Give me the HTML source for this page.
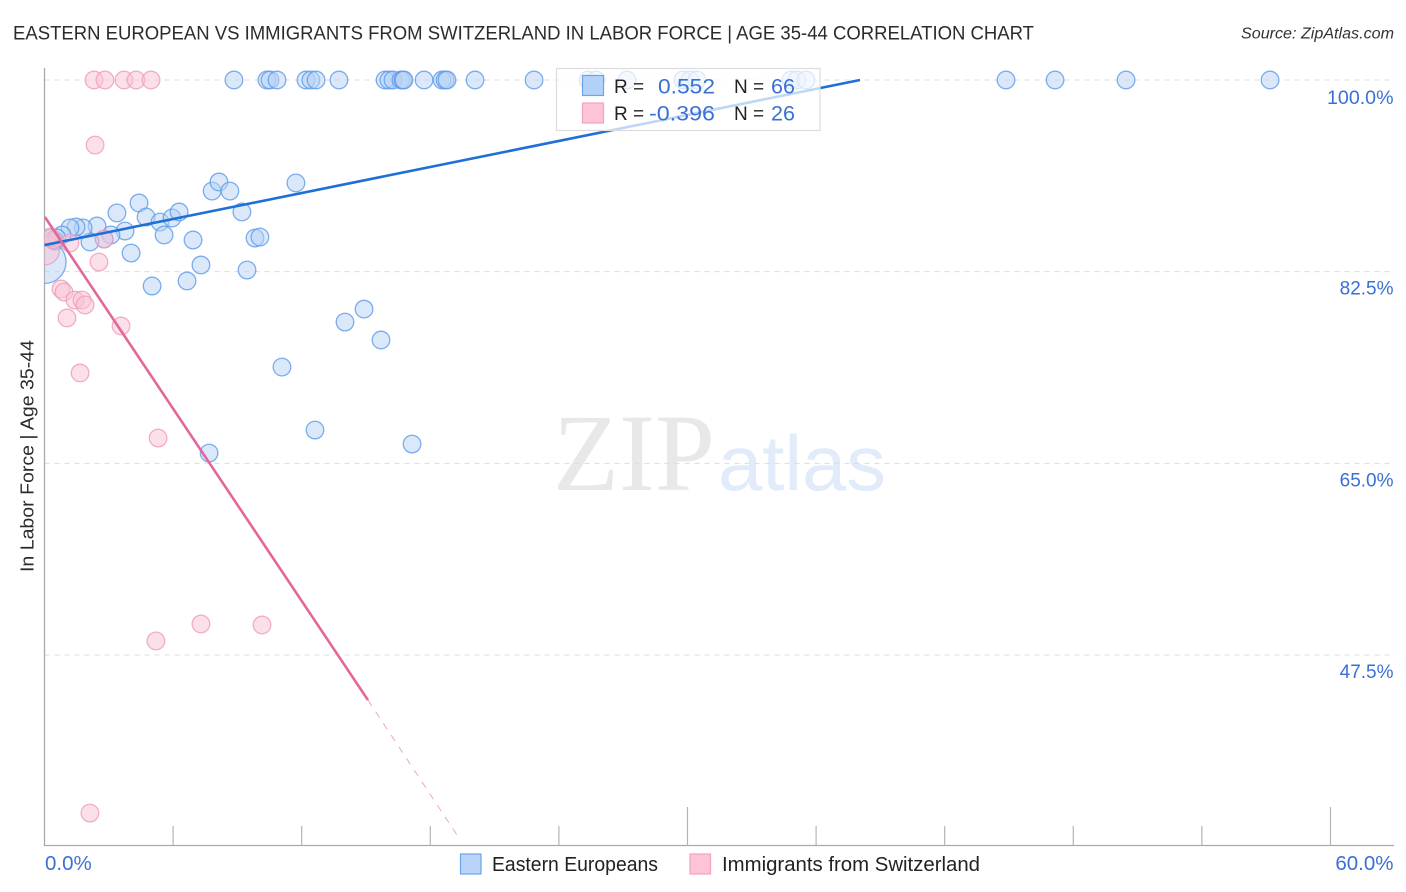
<!DOCTYPE html>
<html lang="en">
<head>
<meta charset="utf-8">
<title>Eastern European vs Immigrants from Switzerland Correlation Chart</title>
<style>
html,body{margin:0;padding:0;background:#fff;}
body{width:1406px;height:892px;overflow:hidden;}
svg{display:block;font-family:"Liberation Sans",sans-serif;}
</style>
</head>
<body>
<svg id="chart" xmlns="http://www.w3.org/2000/svg" width="1406" height="892" viewBox="0 0 1406 892">
  <defs>
    <clipPath id="plot-clip"><rect x="44.5" y="60" width="1360" height="785"/></clipPath>
  </defs>
  <rect x="0" y="0" width="1406" height="892" fill="#fff"/>
  <text x="13" y="39.5" font-size="19" fill="#2b2b2b" textLength="1021" lengthAdjust="spacingAndGlyphs">EASTERN EUROPEAN VS IMMIGRANTS FROM SWITZERLAND IN LABOR FORCE | AGE 35-44 CORRELATION CHART</text>
  <text x="1241" y="38.5" font-size="15.5" font-style="italic" fill="#333" textLength="153" lengthAdjust="spacingAndGlyphs">Source: ZipAtlas.com</text>

  <g>
    <text x="553" y="490" font-family="'Liberation Serif',serif" font-size="110" fill="#e8e8e8" textLength="162" lengthAdjust="spacingAndGlyphs">ZIP</text>
    <text x="718" y="490" font-size="78" fill="#e1ebf9" textLength="168" lengthAdjust="spacingAndGlyphs">atlas</text>
  </g>

  <g id="grid"></g>
  <g id="axes"></g>
  <g id="marks" clip-path="url(#plot-clip)"></g>
  <g id="ylabels"></g>
  <g id="xlabels"></g>

  <text transform="translate(33.5,572) rotate(-90)" font-size="18.5" fill="#2b2b2b" textLength="232" lengthAdjust="spacingAndGlyphs">In Labor Force | Age 35-44</text>

  <g>
    <rect x="556.5" y="68.5" width="263.5" height="62" fill="#fff" fill-opacity="0.72" stroke="#dcdcdc" stroke-width="1.2"/>
    <rect x="582.5" y="75.5" width="21" height="20" fill="#a8cbf6" fill-opacity="0.85" stroke="#6ba3ea" stroke-width="1.2"/>
    <rect x="582.5" y="103" width="21" height="20" fill="#fcc4d6" stroke="#f3a3bd" stroke-width="1.2"/>
    <text x="614" y="93" font-size="19" fill="#222">R =</text>
    <text x="658" y="93.5" font-size="21" fill="#3a70d6" textLength="57" lengthAdjust="spacingAndGlyphs">0.552</text>
    <text x="734" y="93" font-size="19" fill="#222">N =</text>
    <text x="771" y="93.5" font-size="21" fill="#3a70d6" textLength="24" lengthAdjust="spacingAndGlyphs">66</text>
    <text x="614" y="120" font-size="19" fill="#222">R =</text>
    <text x="649" y="120.5" font-size="21" fill="#3a70d6" textLength="66" lengthAdjust="spacingAndGlyphs">-0.396</text>
    <text x="734" y="120" font-size="19" fill="#222">N =</text>
    <text x="771" y="120.5" font-size="21" fill="#3a70d6" textLength="24" lengthAdjust="spacingAndGlyphs">26</text>
  </g>

  <g>
    <g>
      <rect x="460.5" y="854" width="20.5" height="20" fill="#b9d4f8" stroke="#6ba3ea" stroke-width="1.2"/>
      <text x="492" y="871" font-size="20" fill="#222" textLength="166" lengthAdjust="spacingAndGlyphs">Eastern Europeans</text>
    </g>
    <g>
      <rect x="690" y="854" width="20.5" height="20" fill="#fcc4d6" stroke="#f3a3bd" stroke-width="1.2"/>
      <text x="722" y="871" font-size="20" fill="#222" textLength="258" lengthAdjust="spacingAndGlyphs">Immigrants from Switzerland</text>
    </g>
  </g>
</svg>
<script>
// Chart data (x = Eastern European share %, y = labor force %)
var yTickValues = [100, 82.5, 65, 47.5];
var yTickLabels = ['100.0%', '82.5%', '65.0%', '47.5%'];
var xTickValues = [6, 12, 18, 24, 30, 36, 42, 48, 54, 60];
var xMajorTicks = [30, 60];
var xEndValues = [0, 60];
var xEndLabels = ['0.0%', '60.0%'];

var blueX = [8.84,10.38,10.52,10.85,12.20,12.43,12.67,13.74,15.89,16.07,16.26,16.63,16.73,16.77,17.71,18.55,18.69,18.78,20.09,22.84,25.36,25.73,27.18,29.79,30.12,30.44,34.83,35.11,35.53,44.86,47.15,50.46,57.18,
  4.41,3.38,4.74,5.39,5.95,6.28,5.58,6.93,7.82,8.14,8.65,9.21,11.73,9.82,10.05,4.04,3.76,3.10,2.78,2.45,2.12,1.80,1.47,1.19,0.82,0.49,0.30,0.58,7.30,6.65,5.02,9.45,14.02,14.91,15.70,11.08,12.62,17.15,7.68];
var blueY = [100,100,100,100,100,100,100,100,100,100,100,100,100,100,100,100,100,100,100,100,100,100,100,100,100,100,100,100,100,100,100,100,100,
  88.77,87.86,87.49,87.03,87.40,87.95,85.85,85.39,89.86,90.69,89.86,87.95,90.60,85.57,85.66,84.20,86.21,85.85,85.48,86.67,85.21,86.49,86.58,86.49,85.85,85.30,85.57,85.57,83.11,81.65,81.19,82.65,77.90,79.08,76.26,73.79,68.04,66.76,65.94];
var blueLargeX = [0];
var blueLargeY = [83.38];

var pinkX = [2.31,2.82,3.71,4.27,4.97,2.36,2.54,1.19,0.77,0.91,1.42,1.75,1.89,1.05,3.57,1.66,5.30,7.30,10.15,5.20,2.12,2.78,0.40,0.26];
var pinkY = [100,100,100,100,100,94.06,83.38,85.12,80.92,80.64,79.91,79.91,79.46,78.27,77.54,73.25,67.31,50.33,50.24,48.78,33.07,85.48,85.39,85.66];
var pinkLargeX = [0];
var pinkLargeY = [84.48];

var blueTrendX = [0, 38.05];
var blueTrendY = [84.93, 100];
var pinkTrendX = [0.02, 15.09];
var pinkTrendY = [87.49, 43.39];
var pinkDashX = [15.09, 19.34];
var pinkDashY = [43.39, 30.79];

// Axis functions
function xScale(v){ return 44.5 + v * 21.433; }
function yScale(v){ return 80 + (100 - v) * 10.952; }

var NS = 'http://www.w3.org/2000/svg';
function make(parent, tag, attrs, text){
  var el = document.createElementNS(NS, tag);
  for (var k in attrs) el.setAttribute(k, attrs[k]);
  if (text !== undefined) el.textContent = text;
  parent.appendChild(el);
  return el;
}
var grid = document.getElementById('grid');
var axes = document.getElementById('axes');
var marks = document.getElementById('marks');
var ylabels = document.getElementById('ylabels');
var xlabels = document.getElementById('xlabels');

yTickValues.forEach(function(v, i){
  var line = make(grid, 'line', {x1:44.5, x2:1394, y1:yScale(v), y2:yScale(v), stroke:'#dcdcdc', 'stroke-width':1, 'stroke-dasharray':'5 5'});
  
  
  var label = make(ylabels, 'text', {x:1393.5, y:yScale(v)+(i===0?24:23), 'text-anchor':'end', 'font-size':i===0?19.6:19, fill:'#3a70d6'}, yTickLabels[i]);
  
  
});

var yAxis = make(axes, 'line', {x1:44.5, x2:44.5, y1:68, y2:846, stroke:'#aaa', 'stroke-width':1.3});


var xAxis = make(axes, 'line', {x1:44, x2:1394, y1:845.5, y2:845.5, stroke:'#aaa', 'stroke-width':1.3});



xTickValues.forEach(function(v){
  var top = xMajorTicks.indexOf(v) >= 0 ? 807 : 826;
  var tick = make(axes, 'line', {x1:xScale(v), x2:xScale(v), y1:top, y2:845.5, stroke:'#b4b4b4', 'stroke-width':1.2});
  
  
});
xEndValues.forEach(function(v, i){
  var anchor = i === 0 ? 'start' : 'end';
  var px = i === 0 ? xScale(v) + 0.5 : xScale(v) + 63;
  var label = make(xlabels, 'text', {x:px, y:870, 'text-anchor':anchor, 'font-size':20.5, fill:'#3a70d6'}, xEndLabels[i]);
  
  
});

function drawPoints(xs, ys, r, fill, stroke, name){
  xs.forEach(function(x, i){
    var c = make(marks, 'circle', {cx:xScale(x), cy:yScale(ys[i]), r:r, fill:fill, 'fill-opacity':0.5, stroke:stroke, 'stroke-opacity':0.8, 'stroke-width':1.3});
    
    
  });
}
function drawLine(xs, ys, color, width, dash, opacity, name){
  var attrs = {x1:xScale(xs[0]), y1:yScale(ys[0]), x2:xScale(xs[1]), y2:yScale(ys[1]), stroke:color, 'stroke-width':width, 'stroke-opacity':opacity};
  if (dash) attrs['stroke-dasharray'] = dash;
  var l = make(marks, 'line', attrs);
  
  
}

drawPoints(blueLargeX, blueLargeY, 21.5, '#b5d1f5', '#5c9be8', 'eastern-europeans-large-point');
drawPoints(blueX, blueY, 8.8, '#b5d1f5', '#5c9be8', 'eastern-europeans-point');
drawPoints(pinkLargeX, pinkLargeY, 15, '#f9c2d3', '#ee9cb8', 'immigrants-switzerland-large-point');
drawPoints(pinkX, pinkY, 8.8, '#f9c2d3', '#ee9cb8', 'immigrants-switzerland-point');
drawLine(blueTrendX, blueTrendY, '#1f6fd8', 2.6, null, 1, 'eastern-europeans-trend-line');
drawLine(pinkTrendX, pinkTrendY, '#e4679b', 2.6, null, 1, 'immigrants-switzerland-trend-line');
drawLine(pinkDashX, pinkDashY, '#e4679b', 0.9, '7 7', 0.65, 'immigrants-switzerland-trend-extension');
</script>
</body>
</html>
